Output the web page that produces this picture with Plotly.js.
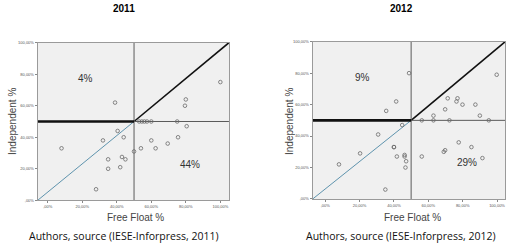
<!DOCTYPE html>
<html><head><meta charset="utf-8">
<script src="https://cdn.plot.ly/plotly-3.0.1.min.js"></script>
<style>html,body{margin:0;padding:0;background:#fff;}#chart{width:511px;height:243px;}</style>
</head><body><div id="chart"></div>
<script>
// Data
const ff2011 = [8, 39, 32, 40.5, 44, 35, 35, 43, 45, 42, 28, 50, 53, 54.5, 56, 57.5, 60, 75, 54, 60, 62.5, 69.5, 75.5, 80.5, 79.5, 80, 100];
const ind2011 = [33, 62, 38, 44, 40, 26, 20, 27.5, 26, 21, 7, 31, 50, 50, 50, 50, 50, 50, 33, 38, 33, 36, 40, 47, 60, 64, 75];
const ff2012 = [8, 20.3, 30.8, 35.5, 41.3, 44.8, 40, 40, 41.7, 46.2, 46.2, 47.1, 46.7, 35, 48.8, 99.8, 71.3, 77, 76.4, 69.8, 79.9, 87.4, 63, 90, 56.2, 63, 72.3, 95.2, 77.7, 85.1, 69, 69.8, 56.2, 91.5];
const ind2012 = [22, 29, 41, 56, 62, 47, 33, 33, 27, 28, 27, 24, 20, 6, 80, 79, 64, 64, 62, 57, 60, 60, 53, 53, 50, 50, 50, 50, 36, 33, 30, 31, 27, 26];
const tickVals = [0, 20, 40, 60, 80, 100];
const tickText = [",00%", "20,00%", "40,00%", "60,00%", "80,00%", "100,00%"];
const threshold = 50;
const years = ["2011", "2012"];
const quadUpperLeft = ["4%", "9%"];
const quadLowerRight = ["44%", "29%"];
const xRanges = [[-5.8, 105], [-7.3, 104.8]];

const traces = [];
const datasets = [[ff2011, ind2011], [ff2012, ind2012]];
datasets.forEach((d, i) => {
  const xa = i === 0 ? 'x' : 'x2', ya = i === 0 ? 'y' : 'y2';
  const r = xRanges[i];
  traces.push({x: [r[0], threshold], y: [0, threshold], xaxis: xa, yaxis: ya, mode: 'lines',
    line: {color: '#5e93ad', width: 1}, hoverinfo: 'skip', showlegend: false});
  traces.push({x: [threshold, r[1]], y: [threshold, 100], xaxis: xa, yaxis: ya, mode: 'lines',
    line: {color: '#111', width: 1.6}, hoverinfo: 'skip', showlegend: false, cliponaxis: false});
  traces.push({x: [threshold, threshold], y: [0, 100], xaxis: xa, yaxis: ya, mode: 'lines',
    line: {color: '#5a5a5a', width: 1}, hoverinfo: 'skip', showlegend: false});
  traces.push({x: [threshold, r[1]], y: [threshold, threshold], xaxis: xa, yaxis: ya, mode: 'lines',
    line: {color: '#5a5a5a', width: 1}, hoverinfo: 'skip', showlegend: false});
  traces.push({x: [r[0], threshold], y: [threshold, threshold], xaxis: xa, yaxis: ya, mode: 'lines',
    line: {color: '#111', width: 2.6}, hoverinfo: 'skip', showlegend: false});
  traces.push({x: d[0], y: d[1], xaxis: xa, yaxis: ya, mode: 'markers', showlegend: false,
    marker: {symbol: 'circle-open', size: 3.6, color: '#6a6a6a', line: {width: 0.8, color: '#6a6a6a'}}});
});

function axis(domain, range, anchor) {
  return {domain: domain, range: range, anchor: anchor, tickvals: tickVals, ticktext: tickText,
    showgrid: false, zeroline: false, showline: true, mirror: true, linecolor: '#9a9a9a', linewidth: 1,
    ticks: 'outside', ticklen: 2, tickcolor: '#888', tickfont: {family: 'Liberation Sans', size: 4, color: '#555'}};
}

const layout = {
  width: 511, height: 243, margin: {l: 0, r: 0, t: 0, b: 0},
  paper_bgcolor: '#fff', plot_bgcolor: '#f0f0f0', showlegend: false,
  xaxis: axis([0.0738, 0.4481], xRanges[0], 'y'),
  yaxis: axis([0.1757, 0.8243], [0, 100], 'x'),
  xaxis2: axis([0.6119, 0.9888], xRanges[1], 'y2'),
  yaxis2: axis([0.1811, 0.8284], [0, 100], 'x2'),
  annotations: []
};
const centers = [124, 401];
const ffCenter = [135, 412];
const indX = [12, 289];
years.forEach((yr, i) => {
  const xa = i === 0 ? 'x' : 'x2', ya = i === 0 ? 'y' : 'y2';
  layout.annotations.push({text: '<b>' + yr + '</b>', xref: 'paper', yref: 'paper', x: centers[i] / 511, y: 1 - 9 / 243,
    showarrow: false, xanchor: 'center', yanchor: 'middle', font: {family: 'Liberation Sans', size: 10, color: '#000'}});
  layout.annotations.push({text: 'Free Float %', xref: 'paper', yref: 'paper', x: ffCenter[i] / 511, y: 1 - 217 / 243,
    showarrow: false, xanchor: 'center', yanchor: 'middle', font: {family: 'Liberation Sans', size: 10, color: '#444'}});
  layout.annotations.push({text: 'Independent %', xref: 'paper', yref: 'paper', x: indX[i] / 511, y: 1 - 122 / 243,
    textangle: -90, showarrow: false, xanchor: 'center', yanchor: 'middle', font: {family: 'Liberation Sans', size: 10, color: '#444'}});
  layout.annotations.push({text: 'Authors, source (IESE-Inforpress, ' + yr + ')', xref: 'paper', yref: 'paper', x: centers[i] / 511, y: 1 - 236 / 243,
    showarrow: false, xanchor: 'center', yanchor: 'middle', font: {family: 'Open Sans', size: 10.5, color: '#111'}});
  layout.annotations.push({text: quadUpperLeft[i], xref: xa, yref: ya, x: 21.6, y: 77.5,
    showarrow: false, xanchor: 'center', yanchor: 'middle', font: {family: 'Liberation Sans', size: 10, color: '#333'}});
  layout.annotations.push({text: quadLowerRight[i], xref: xa, yref: ya, x: 82.7, y: 23,
    showarrow: false, xanchor: 'center', yanchor: 'middle', font: {family: 'Liberation Sans', size: 10, color: '#333'}});
});

Plotly.newPlot('chart', traces, layout, {staticPlot: true, displayModeBar: false});
</script></body></html>
